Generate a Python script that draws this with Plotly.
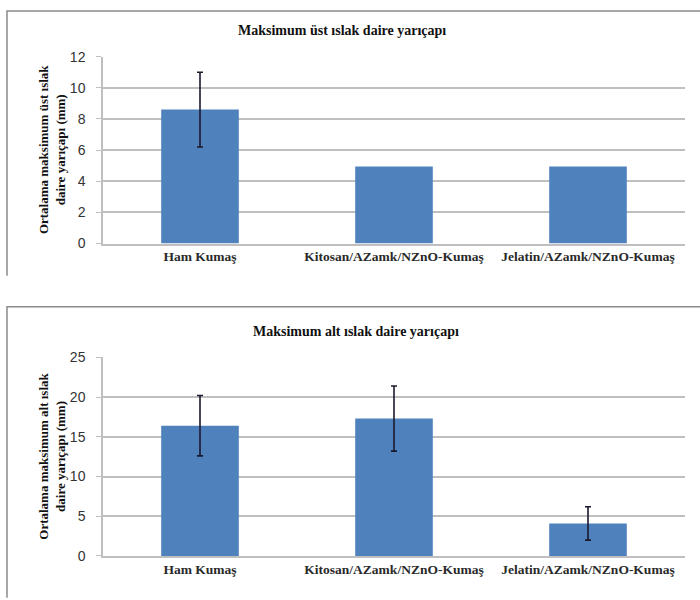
import plotly.graph_objects as go

# Fabric groups shared by both panels
categories = ["Ham Kumaş", "Kitosan/AZamk/NZnO-Kumaş", "Jelatin/AZamk/NZnO-Kumaş"]

# Upper wet circle radius (mm): mean and standard deviation (None = no error bar)
upper_mean = [8.6, 4.95, 4.95]
upper_err = [2.4, None, None]

# Lower wet circle radius (mm): mean and standard deviation
lower_mean = [16.4, 17.3, 4.1]
lower_err = [3.8, 4.1, 2.1]

upper_ticks = [0, 2, 4, 6, 8, 10, 12]
lower_ticks = [0, 5, 10, 15, 20, 25]

BAR = "#4F81BD"
GRID = "#BFBFBF"
ERR = "#1a1a2e"
SERIF = "Liberation Serif"
W, H = 700, 600


def py(px):
    """Pixel row from the top -> paper y."""
    return 1 - px / H


def pxx(px):
    return px / W


def add_panel(fig, means, errs, xa, ya):
    fig.add_trace(go.Bar(
        x=categories, y=means, marker=dict(color=BAR, line=dict(width=0)),
        xaxis=xa, yaxis=ya, showlegend=False, hoverinfo="skip",
    ))
    # error bars only where a deviation exists
    ex = [c for c, e in zip(categories, errs) if e is not None]
    ey = [m for m, e in zip(means, errs) if e is not None]
    ee = [e for e in errs if e is not None]
    fig.add_trace(go.Scatter(
        x=ex, y=ey, mode="markers", marker=dict(size=1, opacity=0),
        error_y=dict(type="data", array=ee, color=ERR, thickness=1.6, width=3),
        xaxis=xa, yaxis=ya, showlegend=False, hoverinfo="skip",
    ))


fig = go.Figure()
add_panel(fig, upper_mean, upper_err, "x", "y")
add_panel(fig, lower_mean, lower_err, "x2", "y2")

xcommon = dict(
    domain=[pxx(103), pxx(685)], showgrid=False, showline=True, linecolor=GRID, linewidth=1.5,
    ticks="", tickvals=categories, ticktext=[f"<b>{c}</b>" for c in categories],
    tickfont=dict(family=SERIF, size=13.5, color="#2a2a2a"), fixedrange=True,
)
ycommon = dict(
    showgrid=True, gridcolor=GRID, gridwidth=1.5, showline=True, linecolor=GRID, linewidth=1.5,
    ticks="outside", ticklen=5, tickcolor=GRID, ticklabelstandoff=8,
    tickfont=dict(family="Liberation Sans", size=14, color="#333"), zeroline=False,
)

fig.update_layout(
    width=W, height=H, margin=dict(l=0, r=0, t=0, b=0),
    paper_bgcolor="white", plot_bgcolor="white",
    bargap=0.6,
    xaxis=dict(anchor="y", **xcommon),
    yaxis=dict(domain=[py(242), py(50)], range=[0, 12], tickvals=upper_ticks, anchor="x", **ycommon),
    xaxis2=dict(anchor="y2", **xcommon),
    yaxis2=dict(domain=[py(563), py(359)], range=[0, 25], tickvals=lower_ticks, anchor="x2", **ycommon),
)

# Panel frames (left and top edges)
frame = dict(color="#8a8a8a", width=1.5)
fig.add_shape(type="path", xref="paper", yref="paper",
              path=f"M {pxx(7)},{py(275)} L {pxx(7)},{py(3)} L 1.01,{py(3)}", line=frame)
fig.add_shape(type="path", xref="paper", yref="paper",
              path=f"M {pxx(7)},-0.01 L {pxx(7)},{py(307)} L 1.01,{py(307)}", line=frame)

# Panel titles
title_font = dict(family=SERIF, size=14, color="#111")
fig.add_annotation(text="<b>Maksimum üst ıslak daire yarıçapı</b>", xref="paper", yref="paper",
                   x=pxx(342), y=py(23), xanchor="center", yanchor="middle", showarrow=False, font=title_font)
fig.add_annotation(text="<b>Maksimum alt ıslak daire yarıçapı</b>", xref="paper", yref="paper",
                   x=pxx(356), y=py(332), xanchor="center", yanchor="middle", showarrow=False, font=title_font)

# Y-axis titles
ytitle_font = dict(family=SERIF, size=13, color="#111")
fig.add_annotation(text="<b>Ortalama maksimum üst ıslak<br>daire yarıçapı (mm)</b>", xref="paper", yref="paper",
                   x=pxx(52), y=py(146), xanchor="center", yanchor="middle", textangle=-90,
                   showarrow=False, font=ytitle_font)
fig.add_annotation(text="<b>Ortalama maksimum alt ıslak<br>daire yarıçapı (mm)</b>", xref="paper", yref="paper",
                   x=pxx(52), y=py(461), xanchor="center", yanchor="middle", textangle=-90,
                   showarrow=False, font=ytitle_font)

fig.write_html("out.html")
